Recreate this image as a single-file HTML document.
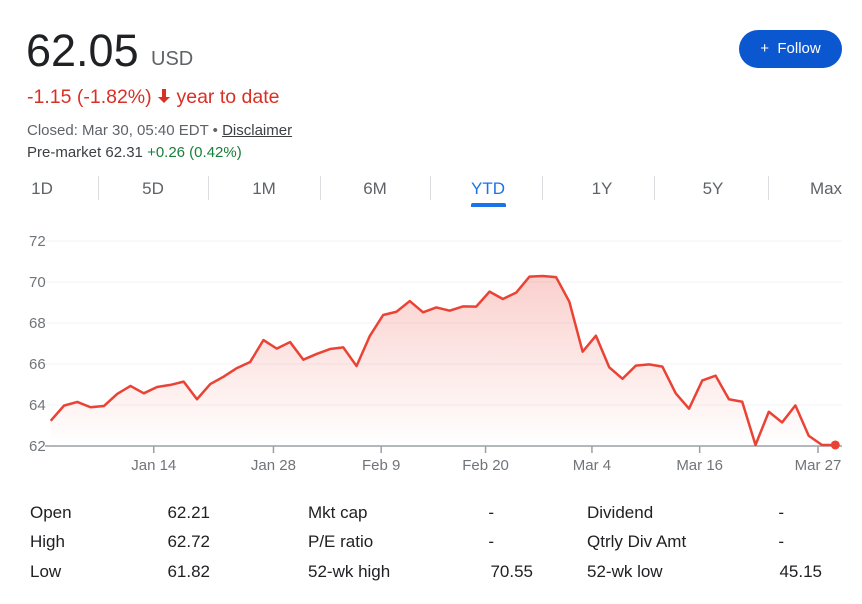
<!DOCTYPE html>
<html><head><meta charset="utf-8"><style>
body{margin:0;width:862px;height:604px;background:#fff;font-family:"Liberation Sans",Arial,sans-serif;color:#202124;position:relative;overflow:hidden}
.a{position:absolute;white-space:nowrap}
.tab{position:absolute;top:179px;font-size:17px;color:#5f6368;transform:translateX(-50%)}
.sep{position:absolute;top:176px;width:1px;height:24px;background:#dadce0}
.st{position:absolute;font-size:17px;color:#202124}
.r{text-align:right;transform:translateX(-100%)}
</style></head><body>
<div class="a" style="left:26px;top:25px;font-size:45px;">62.05</div>
<div class="a" style="left:151px;top:48px;font-size:20px;color:#5f6368">USD</div>
<div class="a" style="left:739px;top:30px;width:103px;height:38px;border-radius:19px;background:#0b57d0;color:#fff;font-size:15px;line-height:38px;text-align:center">+&nbsp; Follow</div>
<div class="a" style="left:27px;top:86px;font-size:19.5px;color:#d93025">-1.15 (-1.82%) <svg width="14" height="16" viewBox="0 0 14 16" style="vertical-align:-1px"><path d="M5 1h4v8h4L7 15 1 9h4z" fill="#d93025"/></svg> year to date</div>
<div class="a" style="left:27px;top:122px;font-size:15px;color:#5f6368">Closed: Mar 30, 05:40 EDT • <span style="text-decoration:underline;color:#3c4043">Disclaimer</span></div>
<div class="a" style="left:27px;top:144px;font-size:15px;color:#3c4043">Pre-market 62.31 <span style="color:#188038">+0.26 (0.42%)</span></div>

<div class="tab" style="left:42px">1D</div>
<div class="tab" style="left:153px">5D</div>
<div class="tab" style="left:264px">1M</div>
<div class="tab" style="left:375px">6M</div>
<div class="tab" style="left:488px;color:#1a73e8">YTD</div>
<div class="a" style="left:471px;top:203px;width:35px;height:4px;border-radius:2px 2px 0 0;background:#1a73e8"></div>
<div class="tab" style="left:602px">1Y</div>
<div class="tab" style="left:713px">5Y</div>
<div class="tab" style="left:826px">Max</div>
<div class="sep" style="left:98px"></div><div class="sep" style="left:208px"></div><div class="sep" style="left:320px"></div><div class="sep" style="left:430px"></div><div class="sep" style="left:542px"></div><div class="sep" style="left:654px"></div><div class="sep" style="left:768px"></div>

<svg id="chart" class="a" style="left:0;top:0" width="862" height="480"></svg>

<div class="st" style="left:30px;top:503px">Open</div>
<div class="st r" style="left:210px;top:503px">62.21</div>
<div class="st" style="left:30px;top:532px">High</div>
<div class="st r" style="left:210px;top:532px">62.72</div>
<div class="st" style="left:30px;top:562px">Low</div>
<div class="st r" style="left:210px;top:562px">61.82</div>
<div class="st" style="left:308px;top:503px">Mkt cap</div>
<div class="st r" style="left:494px;top:503px">-</div>
<div class="st" style="left:308px;top:532px">P/E ratio</div>
<div class="st r" style="left:494px;top:532px">-</div>
<div class="st" style="left:308px;top:562px">52-wk high</div>
<div class="st r" style="left:533px;top:562px">70.55</div>
<div class="st" style="left:587px;top:503px">Dividend</div>
<div class="st r" style="left:784px;top:503px">-</div>
<div class="st" style="left:587px;top:532px">Qtrly Div Amt</div>
<div class="st r" style="left:784px;top:532px">-</div>
<div class="st" style="left:587px;top:562px">52-wk low</div>
<div class="st r" style="left:822px;top:562px">45.15</div>

<script>
const prices=[63.23,63.97,64.15,63.89,63.95,64.54,64.93,64.57,64.88,64.98,65.14,64.28,65.02,65.38,65.80,66.10,67.17,66.75,67.07,66.21,66.49,66.73,66.81,65.90,67.37,68.39,68.55,69.07,68.52,68.76,68.60,68.81,68.80,69.53,69.17,69.48,70.26,70.29,70.24,69.04,66.60,67.38,65.84,65.28,65.92,65.98,65.87,64.57,63.82,65.20,65.43,64.28,64.16,62.05,63.67,63.15,63.98,62.50,62.05,62.05];
const yTicks=[62,64,66,68,70,72];
const xTickLabels=["Jan 14","Jan 28","Feb 9","Feb 20","Mar 4","Mar 16","Mar 27"];
const xTickIndex=[7.75,16.75,24.85,32.7,40.7,48.8,57.7];
const NS="http://www.w3.org/2000/svg";
const svg=document.getElementById('chart');
const x=i=>50.7+i*(835.3-50.7)/(prices.length-1);
const y=v=>446-(v-62)*20.5;
function mk(t,a){const e=document.createElementNS(NS,t);for(const k in a)e.setAttribute(k,a[k]);svg.appendChild(e);return e;}
const defs=mk('defs',{});
defs.innerHTML='<linearGradient id="g" x1="0" y1="0" x2="0" y2="1"><stop offset="0" stop-color="#ea4335" stop-opacity="0.25"/><stop offset="1" stop-color="#ea4335" stop-opacity="0"/></linearGradient>';
yTicks.forEach(t=>{
 if(t>62){const l=mk('line',{x1:45,x2:842,y1:y(t),y2:y(t),stroke:'#f1f3f4','stroke-width':1});
 
 }
 const tx=mk('text',{x:29,y:y(t)+5,'font-size':15,fill:'#70757a','font-family':'Liberation Sans, sans-serif'});
 tx.textContent=t;
 
 
});
let d=prices.map((v,i)=>(i?'L':'M')+x(i)+','+y(v)).join('');
const area=mk('path',{d:d+'L'+x(prices.length-1)+',446L'+x(0)+',446Z',fill:'url(#g)'});


const ax=mk('line',{x1:45,x2:842,y1:446,y2:446,stroke:'#9aa0a6','stroke-width':1.5});


xTickIndex.forEach((ti,k)=>{
 const l=mk('line',{x1:x(ti),x2:x(ti),y1:446,y2:453,stroke:'#9aa0a6','stroke-width':1.5});
 
 
 const tx=mk('text',{x:x(ti),y:470,'font-size':15,fill:'#70757a','text-anchor':'middle','font-family':'Liberation Sans, sans-serif'});
 tx.textContent=xTickLabels[k];
 
 
});
const line=mk('path',{d:d,fill:'none',stroke:'#ea4335','stroke-width':2.5,'stroke-linejoin':'round'});


const dot=mk('circle',{cx:x(prices.length-1),cy:y(prices[prices.length-1]),r:4.5,fill:'#ea4335'});


</script>
</body></html>
